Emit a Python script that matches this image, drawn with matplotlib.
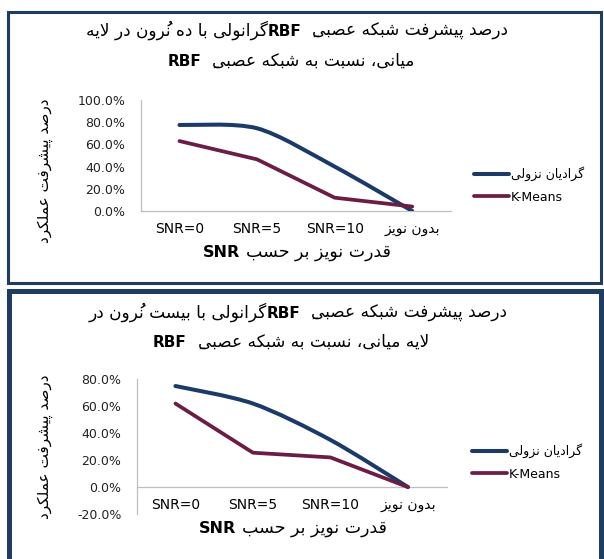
import matplotlib
matplotlib.use('Agg')
import matplotlib.pyplot as plt
from matplotlib.path import Path
from matplotlib.patches import PathPatch, Rectangle
from matplotlib.lines import Line2D

W, H = 604, 559

# ---------------- data ----------------
categories = ['SNR=0', 'SNR=5', 'SNR=10', 'بدون نویز']
series_names = ['گرادیان نزولی', 'K-Means']
p1_gradient = [0.775, 0.745, 0.40, 0.0]
p1_kmeans = [0.63, 0.465, 0.12, 0.04]
p2_gradient = [0.75, 0.62, 0.35, 0.0]
p2_kmeans = [0.62, 0.255, 0.22, 0.0]
p1_yticks = [0.0, 0.2, 0.4, 0.6, 0.8, 1.0]
p2_yticks = [-0.2, 0.0, 0.2, 0.4, 0.6, 0.8]
p1_title = ['درصد پیشرفت شبکه عصبیِ  RBFگرانولی با ده نُرون در لایه',
            'میانی، نسبت به شبکه عصبیِ  RBF']
p2_title = ['درصد پیشرفت شبکه عصبیِ  RBFگرانولی با بیست نُرون در',
            'لایه میانی، نسبت به شبکه عصبیِ  RBF']
x_label = 'قدرت نویز بر حسب SNR'
y_label = 'درصد پیشرفت عملکرد'

BLUE = '#1B3A68'
MAROON = '#6C1D45'
FRAME = '#1F3C63'

# ---------------- minimal Arabic/Persian shaping + bidi ----------------
FORMS = {
    'ا': ('\uFE8D', '\uFE8E', None, None),
    'ب': ('\uFE8F', '\uFE90', '\uFE91', '\uFE92'),
    'پ': ('\uFB56', '\uFB57', '\uFB58', '\uFB59'),
    'ت': ('\uFE95', '\uFE96', '\uFE97', '\uFE98'),
    'ح': ('\uFEA1', '\uFEA2', '\uFEA3', '\uFEA4'),
    'د': ('\uFEA9', '\uFEAA', None, None),
    'ر': ('\uFEAD', '\uFEAE', None, None),
    'ز': ('\uFEAF', '\uFEB0', None, None),
    'س': ('\uFEB1', '\uFEB2', '\uFEB3', '\uFEB4'),
    'ش': ('\uFEB5', '\uFEB6', '\uFEB7', '\uFEB8'),
    'ص': ('\uFEB9', '\uFEBA', '\uFEBB', '\uFEBC'),
    'ع': ('\uFEC9', '\uFECA', '\uFECB', '\uFECC'),
    'ف': ('\uFED1', '\uFED2', '\uFED3', '\uFED4'),
    'ق': ('\uFED5', '\uFED6', '\uFED7', '\uFED8'),
    'ک': ('\uFB8E', '\uFB8F', '\uFB90', '\uFB91'),
    'گ': ('\uFB92', '\uFB93', '\uFB94', '\uFB95'),
    'ل': ('\uFEDD', '\uFEDE', '\uFEDF', '\uFEE0'),
    'م': ('\uFEE1', '\uFEE2', '\uFEE3', '\uFEE4'),
    'ن': ('\uFEE5', '\uFEE6', '\uFEE7', '\uFEE8'),
    'ه': ('\uFEE9', '\uFEEA', '\uFEEB', '\uFEEC'),
    'و': ('\uFEED', '\uFEEE', None, None),
    'ی': ('\uFBFC', '\uFBFD', '\uFBFE', '\uFBFF'),
}


def is_mark(c):
    return '\u064B' <= c <= '\u0652'


def shape(s):
    ch = list(s)
    n = len(ch)
    out = []

    def prev_letter(i):
        j = i - 1
        while j >= 0 and is_mark(ch[j]):
            j -= 1
        return ch[j] if j >= 0 else None

    def next_letter(i):
        j = i + 1
        while j < n and is_mark(ch[j]):
            j += 1
        return (ch[j], j) if j < n else (None, None)

    i = 0
    while i < n:
        c = ch[i]
        if c not in FORMS:
            out.append(c)
            i += 1
            continue
        p = prev_letter(i)
        jp = p is not None and p in FORMS and FORMS[p][2] is not None
        nx, nj = next_letter(i)
        if c == 'ل' and nx == 'ا':
            out.append('\uFEFC' if jp else '\uFEFB')
            out.extend(ch[i + 1:nj])
            i = nj + 1
            continue
        jn = FORMS[c][2] is not None and nx is not None and nx in FORMS
        f = FORMS[c]
        if jp and jn:
            g = f[3]
        elif jp:
            g = f[1]
        elif jn:
            g = f[2]
        else:
            g = f[0]
        out.append(g)
        i += 1
    return ''.join(out)


def is_latin(c):
    return c.isascii() and (c.isalnum() or c in '=-.%')


def has_arabic(s):
    return any('\u0600' <= c <= '\u06FF' for c in s)


def visual_runs(s):
    if not has_arabic(s):
        return [(s, True)]
    sh = shape(s)
    runs = []
    for c in sh:
        t = is_latin(c)
        if runs and runs[-1][1] == t:
            runs[-1][0] += c
        else:
            runs.append([c, t])
    vis = []
    for txt, lat in reversed(runs):
        vis.append((txt if lat else txt[::-1], lat))
    return vis


def visual(s):
    return ''.join(t for t, _ in visual_runs(s))


# ---------------- figure ----------------
fig = plt.figure(figsize=(W / 100, H / 100), dpi=100)
fig.patch.set_facecolor('white')
renderer = fig.canvas.get_renderer()


def fx(px):
    return px / W


def fy(py):
    return 1 - py / H


def draw_mixed(logical, cx, base_y, size_ar, size_lat):
    runs = visual_runs(logical)
    pieces = []
    for txt, lat in runs:
        lead = len(txt) - len(txt.lstrip(' '))
        trail = len(txt) - len(txt.rstrip(' '))
        core = txt.strip(' ')
        size = size_lat if lat else size_ar
        sp = size * 100 / 72 * 0.318
        t = fig.text(0, fy(base_y), core, fontsize=size,
                     fontweight='bold' if lat else 'normal',
                     ha='left', va='baseline', color='black')
        w = t.get_window_extent(renderer).width if core else 0
        pieces.append((t, lead * sp, w, trail * sp))
    total = sum(a + b + c for _, a, b, c in pieces)
    x = cx - total / 2
    for t, a, w, c in pieces:
        x += a
        t.set_x(fx(x))
        x += w + c


def smooth_path(xs, ys, k=7.0):
    pts = list(zip(xs, ys))
    n = len(pts)
    verts = [pts[0]]
    codes = [Path.MOVETO]
    for i in range(n - 1):
        p0 = pts[i - 1] if i > 0 else pts[i]
        p1 = pts[i]
        p2 = pts[i + 1]
        p3 = pts[i + 2] if i + 2 < n else pts[i + 1]
        c1 = (p1[0] + (p2[0] - p0[0]) / k, p1[1] + (p2[1] - p0[1]) / k)
        c2 = (p2[0] - (p3[0] - p1[0]) / k, p2[1] - (p3[1] - p1[1]) / k)
        verts += [c1, c2, p2]
        codes += [Path.CURVE4] * 3
    return Path(verts, codes)


def make_panel(rect, grad, km, yticks, ylim, leg_x, leg_y):
    l, t, r, b = rect
    ax = fig.add_axes([fx(l), fy(b), fx(r - l), (b - t) / H])
    xs = list(range(len(categories)))
    ax.add_patch(PathPatch(smooth_path(xs, grad), fill=False, edgecolor=BLUE,
                           lw=2.9, capstyle='round', joinstyle='round', zorder=3))
    ax.plot(xs, km, color=MAROON, lw=2.7, solid_capstyle='round',
            solid_joinstyle='round', zorder=4)
    ax.set_xlim(-0.5, len(categories) - 0.5)
    ax.set_ylim(*ylim)
    ax.set_yticks(yticks)
    ax.set_yticklabels(['{:.1f}%'.format(v * 100) for v in yticks],
                       fontsize=9, color='#222222')
    ax.set_xticks(xs)
    ax.set_xticklabels([visual(c) for c in categories], fontsize=9, color='#222222')
    ax.tick_params(axis='y', length=0, pad=11)
    ax.tick_params(axis='x', length=0, pad=8)
    for s in ('top', 'right'):
        ax.spines[s].set_visible(False)
    ax.spines['bottom'].set_position(('data', 0))
    for s in ('left', 'bottom'):
        ax.spines[s].set_color('#BFBFBF')
        ax.spines[s].set_linewidth(0.9)
    ax.set_facecolor('none')
    handles = [Line2D([], [], color=BLUE, lw=2.9, solid_capstyle='round'),
               Line2D([], [], color=MAROON, lw=2.7, solid_capstyle='round')]
    ax.legend(handles, [visual(s) for s in series_names], loc='center left',
              bbox_to_anchor=(fx(leg_x), fy(leg_y)), bbox_transform=fig.transFigure,
              frameon=False, fontsize=9, handlelength=2.8, handletextpad=0.15,
              labelspacing=0.75, borderpad=0, borderaxespad=0)
    return ax


# frames
fig.add_artist(Rectangle((fx(8), fy(283)), fx(593), (283 - 12) / H, fill=False,
                         edgecolor=FRAME, lw=2.2, transform=fig.transFigure))
fig.add_artist(Rectangle((fx(9), fy(640)), fx(592), (640 - 291) / H, fill=False,
                         edgecolor=FRAME, lw=3.6, transform=fig.transFigure))

make_panel((140.7, 100, 451, 211), p1_gradient, p1_kmeans, p1_yticks, (0, 1.0), 474, 185)
make_panel((136.7, 379.3, 446.7, 514), p2_gradient, p2_kmeans, p2_yticks, (-0.2, 0.8), 472, 462)

# titles
draw_mixed(p1_title[0], 297, 36, 12.2, 11)
draw_mixed(p1_title[1], 291, 66, 12.2, 11)
draw_mixed(p2_title[0], 298, 318, 12.2, 11)
draw_mixed(p2_title[1], 291, 347, 12.2, 11)

# axis labels
draw_mixed(x_label, 297, 257, 12.5, 11.5)
draw_mixed(x_label, 293, 533, 12.5, 11.5)
fig.text(fx(45), fy(171), visual(y_label), rotation=90, ha='center', va='center',
         fontsize=11, color='black')
fig.text(fx(45), fy(447), visual(y_label), rotation=90, ha='center', va='center',
         fontsize=11, color='black')

fig.savefig('out.png', dpi=100, facecolor='white')
